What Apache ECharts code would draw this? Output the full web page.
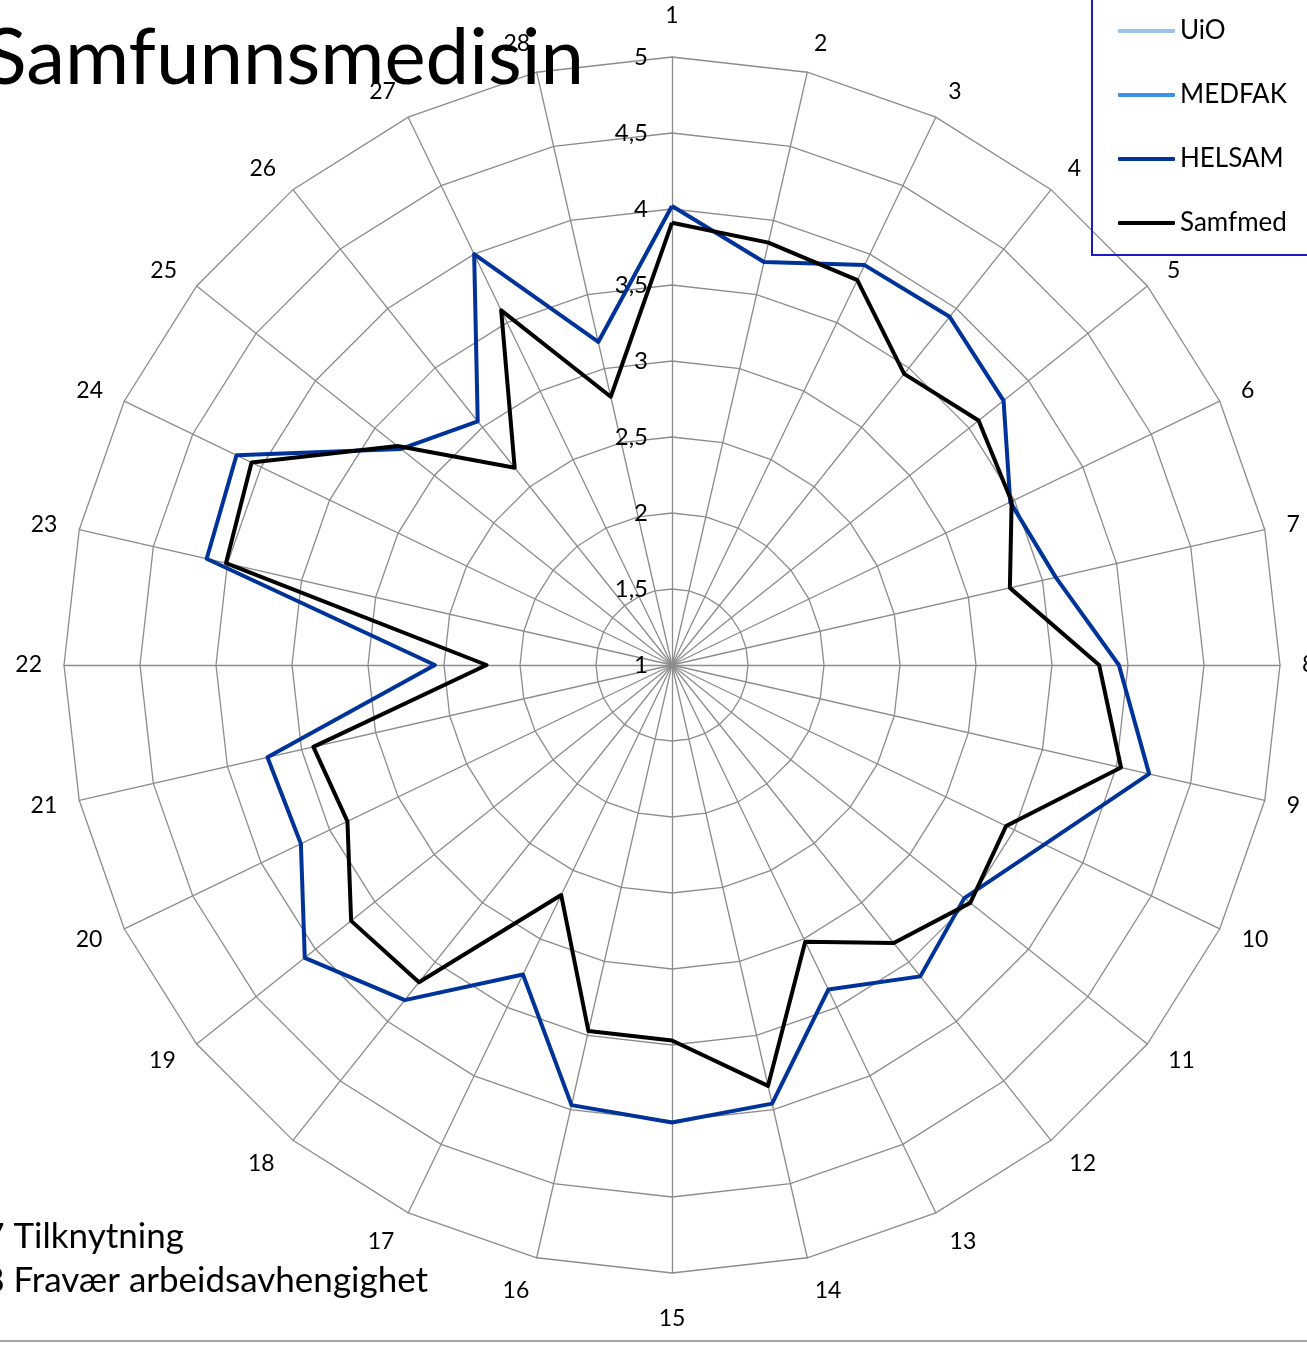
<!DOCTYPE html>
<html>
<head>
<meta charset="utf-8">
<script src="https://cdn.jsdelivr.net/npm/echarts@6/dist/echarts.min.js"></script>
<style>
html,body{margin:0;padding:0;background:#ffffff;}
#chart{width:1307px;height:1347px;}
</style>
</head>
<body>
<div id="chart"></div>
<script>
// ---- data ----
const categories = ['1','2','3','4','5','6','7','8','9','10','11','12','13','14',
                    '15','16','17','18','19','20','21','22','23','24','25','26','27','28'];
const tickLabels = ['1','1,5','2','2,5','3','3,5','4','4,5','5'];
const seriesNames = ['UiO','MEDFAK','HELSAM','Samfmed'];
const uioValues = [];
const medfakValues = [];
const helsamValues = [4.02,3.72,3.92,3.93,3.79,3.47,3.59,3.94,4.22,3.72,3.46,3.62,3.37,3.96,
                      4.01,3.97,3.26,3.82,4.09,3.71,3.73,2.56,4.14,4.18,3.28,3.05,4.00,3.18];
const samfmedValues = [3.91,3.85,3.81,3.45,3.58,3.48,3.28,3.81,4.03,3.44,3.51,3.34,3.02,3.84,
                       3.47,3.47,2.68,3.67,3.70,3.37,3.42,2.22,4.01,4.07,3.31,2.66,3.59,2.81];
const titleText = 'Samfunnsmedisin';
const footnotes = ['27 Tilknytning', '28 Fravær arbeidsavhengighet'];

// ---- chart ----
const FONT = 'Lato, "Noto Sans", sans-serif';
const colors = ['#9dc3e6', '#3b93e8', '#003399', '#000000'];
const valuesBySeries = [uioValues, medfakValues, helsamValues, samfmedValues];

// ECharts places radar indicators counter-clockwise; reorder so 1..28 run clockwise.
const order = [0];
for (let i = categories.length - 1; i >= 1; i--) order.push(i);

const indicator = order.map(function (i, k) {
  const theta = i * 2 * Math.PI / categories.length;   // angle from top, for label spacing only
  const c = Math.cos(theta);
  const ind = {
    name: categories[i], min: 1, max: 5,
    nameGap: 22 + (c > 0 ? 8 : 12) * c * c
  };
  if (k === 0) {
    ind.axisLabel = {
      show: true, color: '#000', fontSize: 24, fontFamily: FONT, margin: 24,
      formatter: function (v) { return tickLabels[Math.round((v - 1) * 2)]; }
    };
  }
  return ind;
});

const chart = echarts.init(document.getElementById('chart'), null, { renderer: 'canvas' });
chart.setOption({
  backgroundColor: '#ffffff',
  animation: false,
  legend: {
    orient: 'vertical', left: 1092, top: -1,
    padding: [17, 40, 17, 26],
    itemGap: 34, itemWidth: 57, itemHeight: 4, icon: 'roundRect',
    borderColor: '#1a1ac8', borderWidth: 2,
    selectedMode: false,
    textStyle: { fontSize: 26, fontFamily: FONT, color: '#000', lineHeight: 30 },
    data: seriesNames
  },
  radar: {
    center: [672, 665], radius: 608, shape: 'polygon', startAngle: 90, splitNumber: 8,
    indicator: indicator,
    nameGap: 26,
    axisName: { color: '#000', fontSize: 23, fontFamily: FONT },
    axisLine: { lineStyle: { color: '#8c8c8c', width: 1.3 } },
    splitLine: { lineStyle: { color: '#8c8c8c', width: 1.3 } },
    splitArea: { show: false },
    axisTick: { show: false },
    axisLabel: { show: false }
  },
  series: seriesNames.map(function (n, s) {
    const vals = valuesBySeries[s];
    return {
      type: 'radar', name: n, symbol: 'none', z: 2 + s,
      itemStyle: { color: colors[s] },
      lineStyle: { color: colors[s], width: 4 },
      data: vals.length ? [{ name: n, value: order.map(function (i) { return vals[i]; }) }] : []
    };
  }),
  graphic: [
    { type: 'text', x: 584, y: 59, z: 10,
      style: { text: titleText, fontSize: 78, fontFamily: FONT, fill: '#000',
               align: 'right', textAlign: 'right', verticalAlign: 'middle', textVerticalAlign: 'middle' } },
    { type: 'text', x: -36, y: 1237, z: 10,
      style: { text: footnotes[0], fontSize: 35, fontFamily: FONT, fill: '#000',
               align: 'left', textAlign: 'left', verticalAlign: 'middle', textVerticalAlign: 'middle' } },
    { type: 'text', x: -36, y: 1281, z: 10,
      style: { text: footnotes[1], fontSize: 35, fontFamily: FONT, fill: '#000',
               align: 'left', textAlign: 'left', verticalAlign: 'middle', textVerticalAlign: 'middle' } },
    { type: 'line', z: 10,
      shape: { x1: 0, y1: 1341, x2: 1307, y2: 1341 },
      style: { stroke: '#a6a6a6', lineWidth: 2 } }
  ]
});
</script>
</body>
</html>
